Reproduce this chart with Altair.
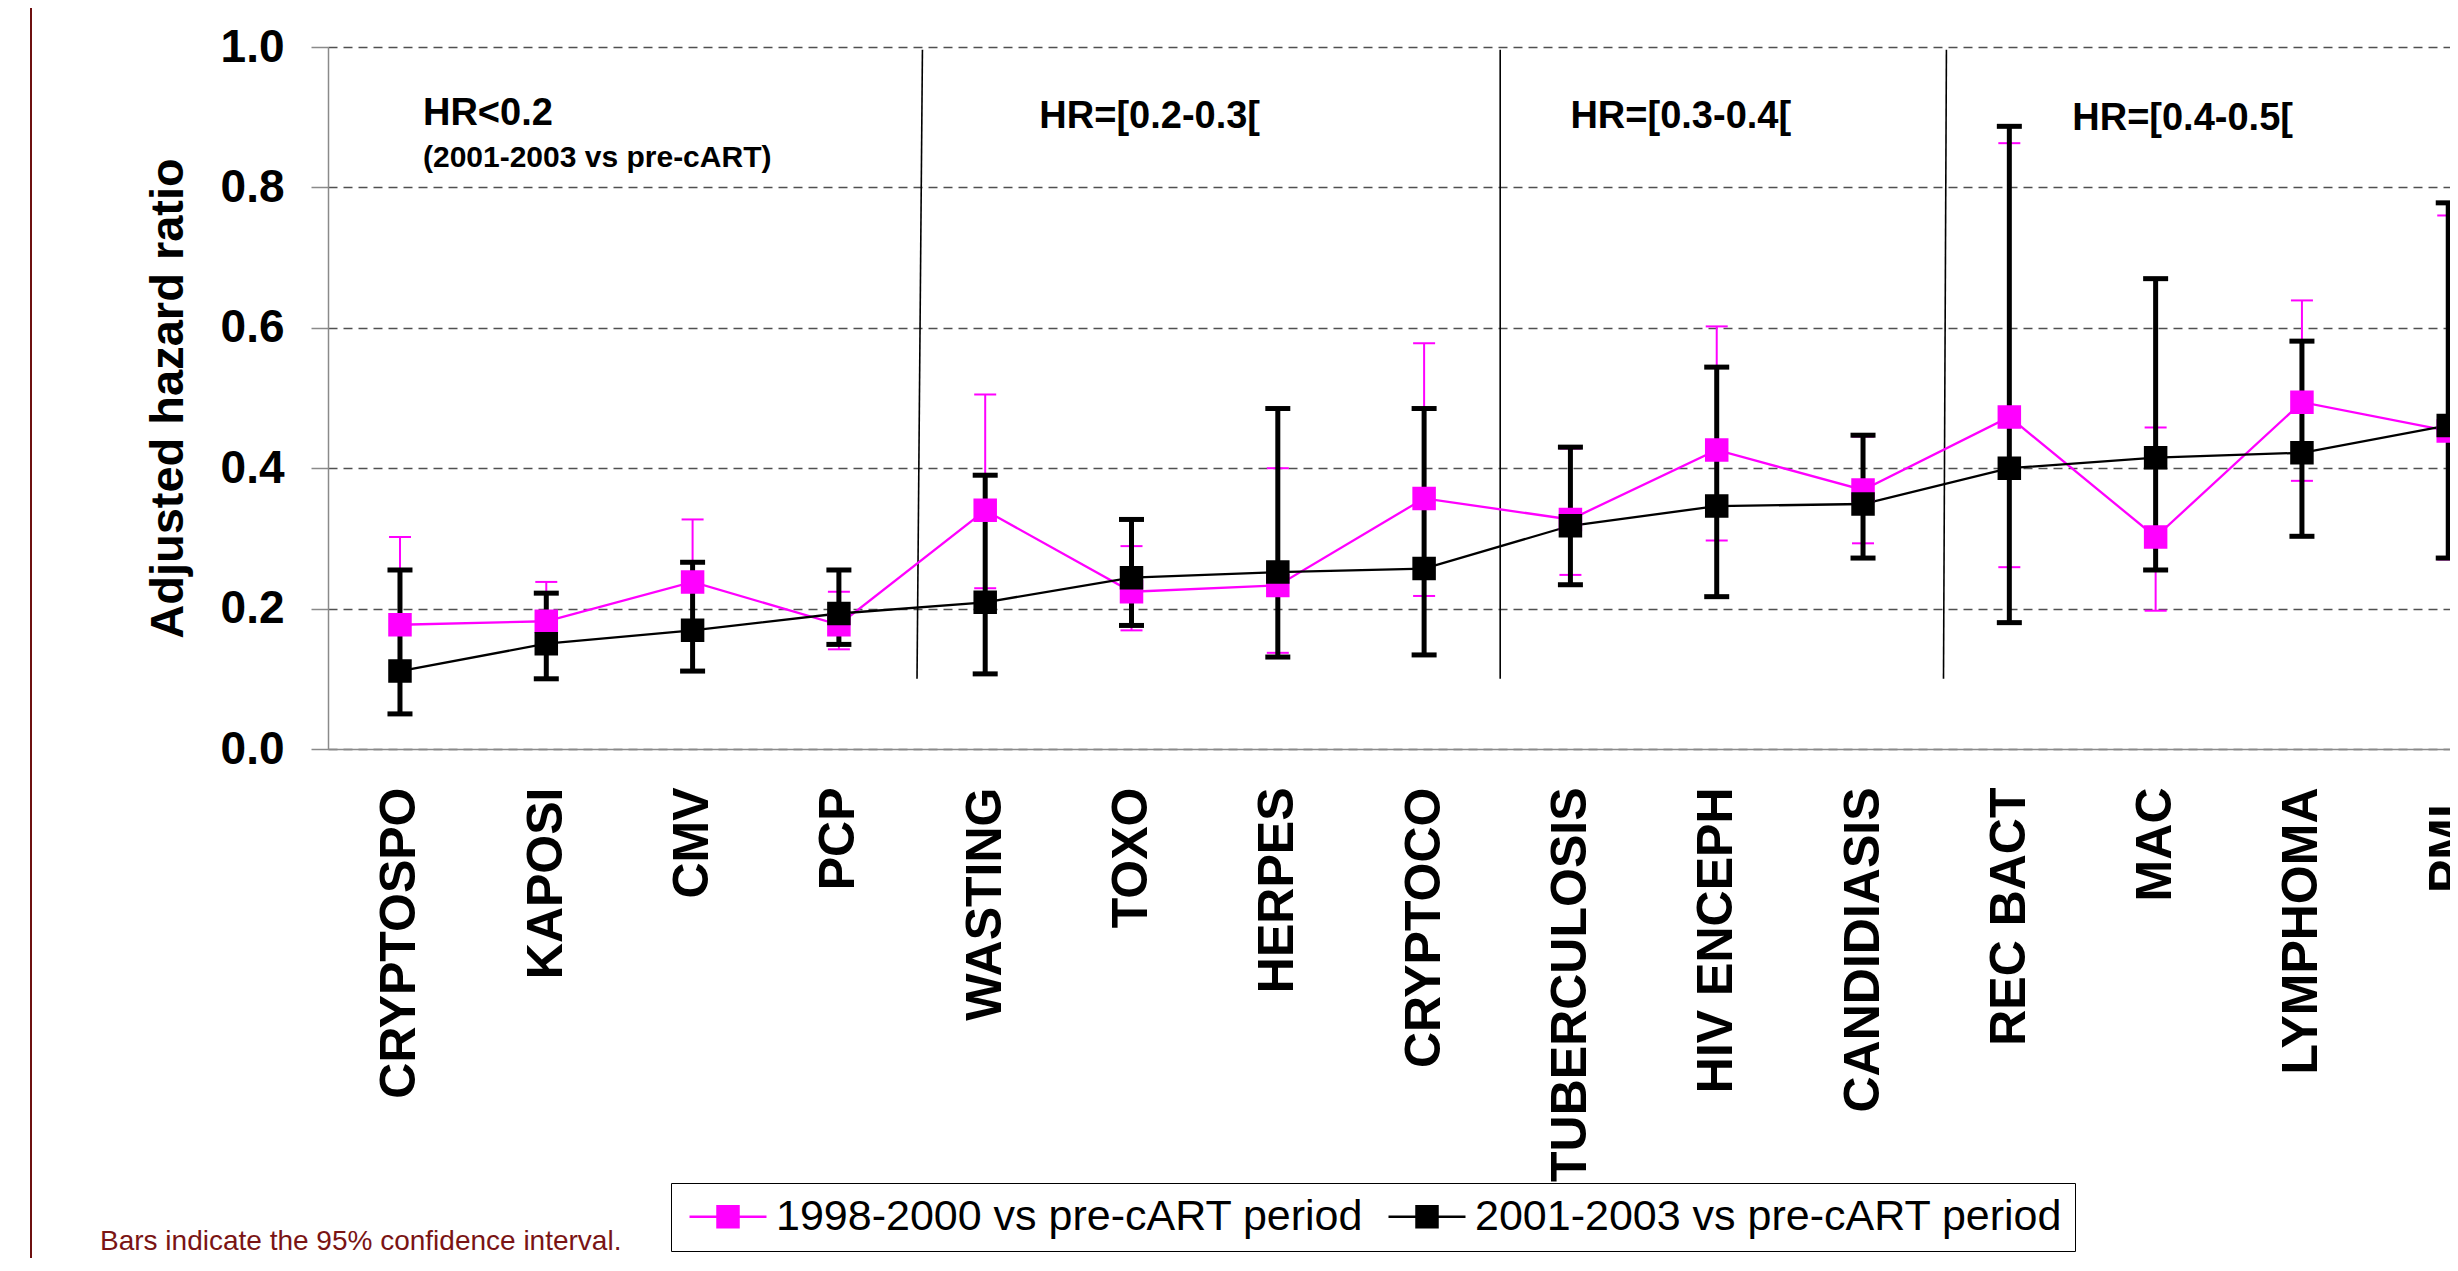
import json
import altair as alt
import pandas as pd

# ---------------- data ----------------
categories = ["CRYPTOSPO", "KAPOSI", "CMV", "PCP", "WASTING", "TOXO", "HERPES",
              "CRYPTOCO", "TUBERCULOSIS", "HIV ENCEPH", "CANDIDIASIS", "REC BACT",
              "MAC", "LYMPHOMA", "PML"]
series_names = ["1998-2000 vs pre-cART period", "2001-2003 vs pre-cART period"]
series_colors = ["#ff00ff", "#000000"]

hr_9800 = [0.177, 0.182, 0.238, 0.177, 0.340, 0.224, 0.233, 0.357, 0.327, 0.426, 0.369, 0.473, 0.302, 0.494, 0.453]
lo_9800 = [0.104, 0.139, 0.173, 0.142, 0.229, 0.169, 0.137, 0.218, 0.248, 0.297, 0.293, 0.259, 0.197, 0.382, 0.270]
hi_9800 = [0.302, 0.238, 0.327, 0.224, 0.505, 0.289, 0.400, 0.578, 0.428, 0.602, 0.445, 0.863, 0.458, 0.639, 0.760]

hr_0103 = [0.111, 0.150, 0.169, 0.193, 0.209, 0.244, 0.252, 0.257, 0.318, 0.346, 0.349, 0.400, 0.415, 0.422, 0.461]
lo_0103 = [0.050, 0.100, 0.111, 0.149, 0.107, 0.176, 0.131, 0.134, 0.234, 0.217, 0.272, 0.180, 0.255, 0.303, 0.272]
hi_0103 = [0.255, 0.222, 0.266, 0.255, 0.390, 0.327, 0.485, 0.485, 0.430, 0.544, 0.447, 0.887, 0.670, 0.581, 0.778]

group_labels = ["HR<0.2", "HR=[0.2-0.3[", "HR=[0.3-0.4[", "HR=[0.4-0.5["]
group_label_x = [0.157, 4.37, 8.00, 11.43]
group_label_y = [0.904, 0.900, 0.900, 0.897]
sub_label = ["(2001-2003 vs pre-cART)"]
sub_label_x = [0.157]
sub_label_y = [0.842]

sep_x_top = [3.571, 7.52, 10.57]
sep_x_bottom = [3.534, 7.52, 10.55]
sep_y_top = [0.996, 0.996, 0.996]
sep_y_bottom = [0.10, 0.10, 0.10]

y_ticks = [0.0, 0.2, 0.4, 0.6, 0.8, 1.0]
footnote = ["Bars indicate the 95% confidence interval."]

# ---------------- tables ----------------
rows = []
for s, (hr, lo, hi) in zip(series_names, [(hr_9800, lo_9800, hi_9800), (hr_0103, lo_0103, hi_0103)]):
    for i, d in enumerate(categories):
        rows.append({"idx": i, "disease": d, "series": s, "hr": hr[i], "lo": lo[i], "hi": hi[i]})
df = pd.DataFrame(rows)

ann_df = pd.DataFrame({"label": group_labels, "x": group_label_x, "y": group_label_y})
sub_df = pd.DataFrame({"label": sub_label, "x": sub_label_x, "y": sub_label_y})
sep_df = pd.DataFrame({"x": sep_x_top, "x2": sep_x_bottom, "y": sep_y_top, "y2": sep_y_bottom})
note_df = pd.DataFrame({"note": footnote})

FONT = "Liberation Sans"

x_scale = alt.Scale(domain=[-0.492, 14.012], nice=False, zero=False)
y_scale = alt.Scale(domain=[0, 1], nice=False, zero=False)
color_scale = alt.Scale(domain=series_names, range=series_colors)

x_axis = alt.Axis(
    values=list(range(len(categories))),
    labelExpr=json.dumps(categories) + "[datum.value]",
    labelAngle=270, labelAlign="right", labelBaseline="middle",
    labelFont=FONT, labelFontWeight="bold", labelFontSize=50, labelColor="black",
    labelPadding=38, labelLimit=2000, ticks=False, tickSize=0, labelOverlap=False,
    domainColor="#8a8a8a", domainWidth=1.5, grid=False, title=None,
)
y_axis = alt.Axis(
    values=y_ticks, format=".1f",
    labelFont=FONT, labelFontWeight="bold", labelFontSize=46, labelColor="black",
    labelPadding=27, tickSize=17, tickColor="#8a8a8a", tickWidth=1.5,
    domainColor="#8a8a8a", domainWidth=1.5,
    grid=True, gridColor="#505050", gridDash=[9, 6], gridWidth=1.5,
    title="Adjusted hazard ratio", titleFont=FONT, titleFontSize=47,
    titleFontWeight="bold", titleColor="black", titleAngle=270,
    titleX=-160, titleY=351, titleAlign="center", titleBaseline="middle",
)

base = alt.Chart(df)
X = alt.X("idx:Q", scale=x_scale, axis=x_axis)


def error_layers(name, color, bar_width, cap_size, cap_thick):
    sub = base.transform_filter(alt.datum.series == name)
    bars = sub.mark_rule(color=color, strokeWidth=bar_width).encode(
        x=X, y=alt.Y("lo:Q", scale=y_scale, axis=y_axis), y2="hi:Q")
    lo_caps = sub.mark_tick(color=color, orient="horizontal", size=cap_size,
                            thickness=cap_thick, opacity=1).encode(
        x=X, y=alt.Y("lo:Q", scale=y_scale, axis=y_axis))
    hi_caps = sub.mark_tick(color=color, orient="horizontal", size=cap_size,
                            thickness=cap_thick, opacity=1).encode(
        x=X, y=alt.Y("hi:Q", scale=y_scale, axis=y_axis))
    return [bars, lo_caps, hi_caps]


def line_layer(name, color, width):
    sub = base.transform_filter(alt.datum.series == name)
    return sub.mark_line(color=color, strokeWidth=width).encode(
        x=X, y=alt.Y("hr:Q", scale=y_scale, axis=y_axis), order="idx:Q")


err_m = error_layers(series_names[0], series_colors[0], 2, 22, 2)
err_k = error_layers(series_names[1], series_colors[1], 5, 25, 5)
line_m = line_layer(series_names[0], series_colors[0], 2.3)
line_k = line_layer(series_names[1], series_colors[1], 2.3)

separators = alt.Chart(sep_df).mark_rule(color="black", strokeWidth=1.6).encode(
    x=alt.X("x:Q", scale=x_scale, axis=x_axis), x2="x2:Q",
    y=alt.Y("y:Q", scale=y_scale, axis=y_axis), y2="y2:Q")

legend = alt.Legend(
    title=None, orient="none", legendX=343, legendY=1136, direction="horizontal",
    symbolType="M-1,0H4.133M0.867,-0.7H2.267V0.7H0.867Z",
    symbolSize=900, symbolStrokeWidth=2.5, symbolOpacity=1,
    labelFont=FONT, labelFontSize=43, labelColor="black", labelOffset=50,
    labelLimit=2000, columnPadding=18, padding=12,
    strokeColor="black", fillColor="white",
)

markers = base.mark_point(shape="square", filled=True, size=441, strokeWidth=2.5, opacity=1).encode(
    x=X, y=alt.Y("hr:Q", scale=y_scale, axis=y_axis),
    fill=alt.Fill("series:N", scale=color_scale, legend=legend),
    stroke=alt.Stroke("series:N", scale=color_scale, legend=legend),
)

group_text = alt.Chart(ann_df).mark_text(
    align="left", baseline="middle", font=FONT, fontSize=38, fontWeight="bold", color="black"
).encode(x=alt.X("x:Q", scale=x_scale, axis=x_axis),
         y=alt.Y("y:Q", scale=y_scale, axis=y_axis), text="label:N")

sub_text = alt.Chart(sub_df).mark_text(
    align="left", baseline="middle", font=FONT, fontSize=30, fontWeight="bold", color="black"
).encode(x=alt.X("x:Q", scale=x_scale, axis=x_axis),
         y=alt.Y("y:Q", scale=y_scale, axis=y_axis), text="label:N")

note = alt.Chart(note_df).mark_text(
    align="left", baseline="middle", font=FONT, fontSize=28, color="#7a1414"
).encode(x=alt.value(-228), y=alt.value(1195), text="note:N")

border = alt.Chart(note_df).mark_rule(color="#6e1010", strokeWidth=2).encode(
    x=alt.value(-297), y=alt.value(-47), y2=alt.value(1250))

chart = alt.layer(
    *err_m, *err_k, separators, line_m, line_k, markers, group_text, sub_text, note, border
).properties(
    width=2122, height=702,
    autosize=alt.AutoSizeParams(type="none"),
    padding={"left": 320, "top": 39, "right": 0, "bottom": 509},
    background="white",
).configure_view(strokeWidth=0)

chart.save("out.html", embed_options={"renderer": "svg", "actions": False})
